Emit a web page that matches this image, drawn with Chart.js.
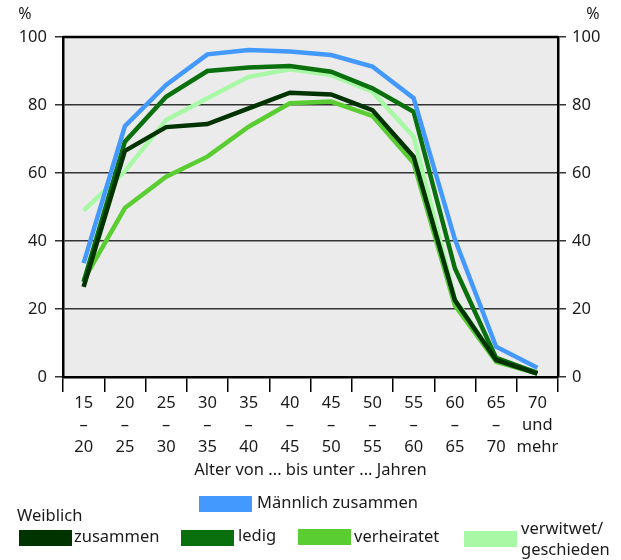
<!DOCTYPE html>
<html>
<head>
<meta charset="utf-8">
<script src="https://cdn.jsdelivr.net/npm/chart.js@4"></script>
<style>
  html, body { margin: 0; padding: 0; background: #fff; }
  #wrap { width: 621px; height: 560px; position: relative; }
</style>
</head>
<body>
<div id="wrap"><canvas id="erwerbChart"></canvas></div>
<script>
// age groups, each label split into lines
const ageGroups = [
    ["15", "–", "20"], ["20", "–", "25"], ["25", "–", "30"], ["30", "–", "35"],
    ["35", "–", "40"], ["40", "–", "45"], ["45", "–", "50"], ["50", "–", "55"],
    ["55", "–", "60"], ["60", "–", "65"], ["65", "–", "70"], ["70", "und", "mehr"]
];

// values in %
const maennlichZusammen = [33.5, 73.8, 85.9, 94.9, 96.2, 95.7, 94.7, 91.3, 82.0, 40.5, 8.9, 2.7];
const weiblichZusammen  = [26.5, 66.5, 73.5, 74.4, 79.0, 83.6, 83.1, 78.5, 64.8, 22.6, 5.0, 1.0];
const weiblichLedig     = [28.0, 69.2, 82.4, 90.0, 91.0, 91.5, 89.8, 84.9, 78.0, 32.0, 5.6, 1.2];
const weiblichVerh      = [28.5, 49.7, 58.9, 64.8, 73.6, 80.5, 81.0, 76.8, 62.9, 21.0, 4.5, 1.0];
const weiblichVerwitwet = [48.9, 60.5, 75.6, 82.0, 88.3, 90.5, 88.8, 83.9, 70.7, 23.0, 5.0, 1.0];

const yTicks = [0, 20, 40, 60, 80, 100];

const COL_BLUE = "#4499ff";
const COL_DARK = "#003300";
const COL_LEDIG = "#0a700e";
const COL_VERH = "#5acd32";
const COL_VERW = "#a8f8a6";
const TXT = "#1a1a1a";

const FONT = "'Noto Sans', 'Open Sans', sans-serif";

// grey plot background + black top border
const plotFrame = {
    id: "plotFrame",
    beforeDraw(chart) {
        const { ctx, chartArea: a } = chart;
        ctx.save();
        ctx.fillStyle = "#ebebeb";
        ctx.fillRect(a.left, a.top, a.right - a.left, a.bottom - a.top);
        ctx.restore();
    },
    afterDraw(chart) {
        const { ctx, chartArea: a } = chart;
        ctx.save();
        ctx.strokeStyle = "#000";
        ctx.lineWidth = 2.5;
        ctx.beginPath();
        ctx.moveTo(a.left, a.top);
        ctx.lineTo(a.right, a.top);
        ctx.stroke();
        ctx.fillStyle = TXT;
        ctx.font = "16px " + FONT;
        ctx.textAlign = "center";
        ctx.textBaseline = "middle";
        ctx.fillText("%", 25, 14);
        ctx.fillText("%", 593, 14);
        ctx.restore();
    }
};

// legend laid out like the original
const customLegend = {
    id: "customLegend",
    afterDraw(chart) {
        const ctx = chart.ctx;
        ctx.save();
        ctx.font = "16.5px " + FONT;
        ctx.fillStyle = TXT;
        ctx.textBaseline = "middle";
        ctx.textAlign = "left";

        const box = (x, y, c) => { ctx.fillStyle = c; ctx.fillRect(x, y, 53, 16); ctx.fillStyle = TXT; };

        box(199, 496, COL_BLUE);
        ctx.fillText("Männlich zusammen", 257, 503);

        ctx.fillText("Weiblich", 17, 516);

        box(19, 530, COL_DARK);
        ctx.fillText("zusammen", 74, 537);
        box(181, 530, COL_LEDIG);
        ctx.fillText("ledig", 238, 536);
        box(298, 529, COL_VERH);
        ctx.fillText("verheiratet", 354, 537);
        box(464, 531, COL_VERW);
        ctx.fillText("verwitwet/", 521, 529);
        ctx.fillText("geschieden", 521, 550);
        ctx.restore();
    }
};

function lineSet(label, data, color) {
    return {
        label,
        data,
        borderColor: color,
        backgroundColor: color,
        borderWidth: 4.5,
        pointRadius: 0,
        tension: 0,
        fill: false
    };
}

new Chart(document.getElementById("erwerbChart"), {
    type: "line",
    data: {
        labels: ageGroups,
        datasets: [
            lineSet("Männlich zusammen", maennlichZusammen, COL_BLUE),
            lineSet("zusammen", weiblichZusammen, COL_DARK),
            lineSet("ledig", weiblichLedig, COL_LEDIG),
            lineSet("verheiratet", weiblichVerh, COL_VERH),
            lineSet("verwitwet/geschieden", weiblichVerwitwet, COL_VERW)
        ]
    },
    options: {
        responsive: true,
        maintainAspectRatio: false,
        animation: false,
        layout: { padding: { top: 37, bottom: 80, left: 0, right: 0 } },
        plugins: {
            legend: { display: false },
            tooltip: { enabled: false }
        },
        scales: {
            x: {
                offset: true,
                afterFit: s => { s.height = 103; },
                grid: {
                    offset: true,
                    drawOnChartArea: false,
                    tickLength: 15,
                    color: "#000",
                    lineWidth: 1.5
                },
                border: { color: "#000", width: 2.5 },
                ticks: {
                    color: TXT,
                    padding: 0,
                    maxRotation: 0,
                    autoSkip: false,
                    font: { family: FONT, size: 16.5, lineHeight: 1.33 }
                },
                title: {
                    display: true,
                    text: "Alter von ... bis unter ... Jahren",
                    color: TXT,
                    padding: { top: 0, bottom: 0 },
                    font: { family: FONT, size: 16.5, lineHeight: 1.2 }
                }
            },
            y: {
                position: "left",
                min: 0,
                max: 100,
                afterFit: s => { s.width = 63; },
                afterBuildTicks: s => { s.ticks = yTicks.map(v => ({ value: v })); },
                grid: { color: "#333", lineWidth: 1.5, tickLength: 8 },
                border: { color: "#000", width: 2.5 },
                ticks: { color: TXT, padding: 8, font: { family: FONT, size: 16.5 } }
            },
            y2: {
                position: "right",
                min: 0,
                max: 100,
                afterFit: s => { s.width = 63; },
                afterBuildTicks: s => { s.ticks = yTicks.map(v => ({ value: v })); },
                grid: { drawOnChartArea: false, color: "#333", lineWidth: 1.5, tickLength: 8 },
                border: { color: "#000", width: 2.5 },
                ticks: { color: TXT, padding: 6, font: { family: FONT, size: 16.5 } }
            }
        }
    },
    plugins: [plotFrame, customLegend]
});
</script>
</body>
</html>
